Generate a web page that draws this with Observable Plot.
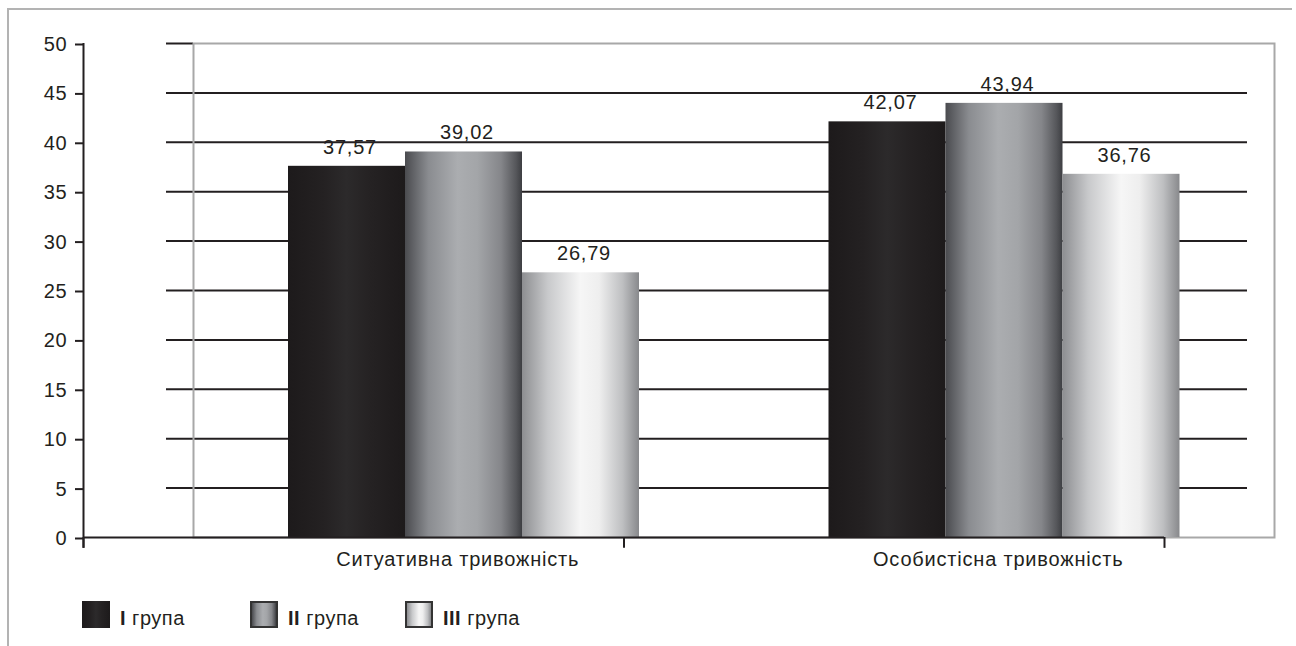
<!DOCTYPE html>
<html><head><meta charset="utf-8">
<script src="https://cdn.jsdelivr.net/npm/d3@7"></script>
<script src="https://cdn.jsdelivr.net/npm/@observablehq/plot@0.6"></script>
<style>
body{margin:0;background:#fff;font-family:"Liberation Sans",Arial,sans-serif;}
#wrap{position:relative;width:1296px;height:646px;overflow:hidden;}
#border{position:absolute;left:7px;top:8px;width:1283px;height:700px;border-top:2px solid #b3b3b3;border-left:2px solid #b3b3b3;pointer-events:none;}
#chart{position:absolute;left:0;top:0;}
#chart svg text{letter-spacing:0.8px;}
#legend{position:absolute;top:600px;left:0;width:1296px;height:30px;}
.item{position:absolute;top:0;display:flex;align-items:flex-end;height:28px;font-size:20px;color:#231f20;letter-spacing:0.5px;line-height:20px;}
.sw{width:28px;height:27px;box-sizing:border-box;margin-right:10px;}
</style></head>
<body><div id="wrap"><div id="chart"></div><div id="legend"></div><div id="border"></div></div>
<script>
// ---- data ----
const categories = ["Ситуативна тривожність", "Особистісна тривожність"];
const groups = ["I група", "II група", "III група"];
const groupI = [37.57, 42.07];
const groupII = [39.02, 43.94];
const groupIII = [26.79, 36.76];
const yTicks = [0, 5, 10, 15, 20, 25, 30, 35, 40, 45, 50];

// ---- styles / layout ----
const W = 1296, H = 590;
const ML = 193, MR = 22, MT = 43, MB = 53;
const plotW = W - ML - MR;
const bw = plotW / categories.length;
const OFF = 95, BARW = 117;       // bar offset and width inside a category band
const DEPTH = 110, GRID_SHIFT = 27; // pseudo-3D shift of axes and grid
const ink = "#231f20";
const gradients = [
  [[0, "#1d1a1b"], [0.3, "#242122"], [0.5, "#2c2a2b"], [0.7, "#252223"], [1, "#1d1a1b"]],
  [[0, "#4a4b4f"], [0.2, "#8a8c90"], [0.45, "#abadb0"], [0.62, "#a3a5a8"], [0.82, "#85868a"], [0.95, "#55565a"], [1, "#3d3e42"]],
  [[0, "#8d8e91"], [0.22, "#c8c9cb"], [0.5, "#f6f6f6"], [0.66, "#eeeeee"], [0.86, "#bebfc1"], [1, "#88898c"]]
];
const series = [groupI, groupII, groupIII];
const fmt = v => v.toFixed(2).replace(".", ",");
const yMax = yTicks[yTicks.length - 1];

const barMarks = [];
const labelMarks = [];
series.forEach((vals, g) => {
  const data = categories.map((c, i) => ({category: c, value: vals[i]}));
  barMarks.push(Plot.barY(data, {
    x: "category", y: "value", fill: `url(#grad${g})`,
    insetLeft: OFF + g * BARW, insetRight: bw - OFF - (g + 1) * BARW
  }));
  labelMarks.push(Plot.text(data, {
    x: "category", y: "value", text: d => fmt(d.value),
    dx: -bw / 2 + OFF + (g + 0.5) * BARW + 3, dy: -19,
    fontSize: 20, fill: ink
  }));
});

const svg = Plot.plot({
  width: W, height: H,
  marginLeft: ML, marginRight: MR, marginTop: MT, marginBottom: MB,
  style: {background: "transparent", fontFamily: "Liberation Sans, Arial, sans-serif", color: ink},
  x: {type: "band", domain: categories, padding: 0, round: false},
  y: {domain: [0, yMax]},
  marks: [
    Plot.gridY(yTicks.filter(t => t > 0 && t < yMax), {dx: -GRID_SHIFT, stroke: ink, strokeOpacity: 1, strokeWidth: 2}),
    Plot.ruleY([yMax], {dx: -GRID_SHIFT, insetRight: plotW - GRID_SHIFT, stroke: ink, strokeWidth: 2}),
    Plot.frame({stroke: "#a8a8a8", strokeWidth: 2}),
    ...barMarks,
    Plot.ruleY([0], {dx: -DEPTH, stroke: ink, strokeWidth: 2}),
    Plot.ruleX([categories[0]], {x: d => d, y1: yMax, y2: -1.1, dx: -DEPTH - bw / 2, stroke: ink, strokeWidth: 2}),
    Plot.ruleX(categories, {x: d => d, y1: 0, y2: -1.1, dx: -DEPTH - bw / 2, stroke: ink, strokeWidth: 2}),
    Plot.ruleX([categories[categories.length - 1]], {x: d => d, y1: 0, y2: -1.1, dx: -DEPTH + bw / 2, stroke: ink, strokeWidth: 2}),
    Plot.axisY(yTicks, {dx: -DEPTH, dy: 1, tickSize: 8, tickPadding: 8, fontSize: 20, stroke: ink, fill: ink, strokeWidth: 2, label: null}),
    Plot.axisX({tickSize: 0, tickPadding: 14, fontSize: 20, dx: -6, fill: ink, label: null}),
    ...labelMarks
  ]
});

const defs = d3.select(svg).insert("defs", ":first-child");
gradients.forEach((stops, g) => {
  const lg = defs.append("linearGradient").attr("id", `grad${g}`)
    .attr("x1", 0).attr("y1", 0).attr("x2", 1).attr("y2", 0);
  stops.forEach(([o, c]) => lg.append("stop").attr("offset", o).attr("stop-color", c));
});
document.getElementById("chart").appendChild(svg);

// ---- legend ----
const legendX = [82, 250, 405];
const legend = document.getElementById("legend");
groups.forEach((name, g) => {
  const item = document.createElement("div");
  item.className = "item";
  item.style.left = legendX[g] + "px";
  const sw = document.createElement("div");
  sw.className = "sw";
  sw.style.background = "linear-gradient(to right," + gradients[g].map(([o, c]) => `${c} ${o * 100}%`).join(",") + ")";
  if (g > 0) sw.style.border = "2px solid #333";
  const [num, ...rest] = name.split(" ");
  const txt = document.createElement("span");
  txt.innerHTML = `<b>${num}</b> ${rest.join(" ")}`;
  item.appendChild(sw);
  item.appendChild(txt);
  legend.appendChild(item);
});
</script>
</body></html>
